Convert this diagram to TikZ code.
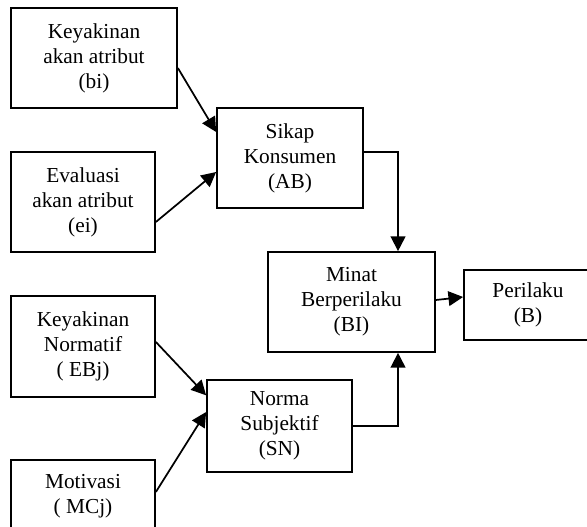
\documentclass[tikz,border=0pt]{standalone}
\usepackage{fontspec}
\setmainfont{Liberation Serif}
\usetikzlibrary{arrows.meta,positioning}

\begin{document}
\begin{tikzpicture}[
  x=0.75pt,
  y=-0.75pt,
  factor/.style={draw, line width=1.3pt, align=center, inner sep=2pt, minimum height=75pt,
    font=\fontsize{16}{18.75}\selectfont},
  arr/.style={-{Triangle[length=11pt,width=11pt]}, line width=1.3pt}
]
\useasboundingbox (0,0) rectangle (587,527);

\node[factor, minimum width=124.5pt] (belief) at (94,58) {Keyakinan\\akan atribut\\(bi)};
\node[factor, minimum width=108pt] (evaluation) at (83,202) {Evaluasi\\akan atribut\\(ei)};
\node[factor, minimum width=109.5pt] (attitude) at (290,158) {Sikap\\Konsumen\\(AB)};
\node[factor, minimum width=125.25pt] (intention) at (351.5,302) {Minat\\Berperilaku\\(BI)};
\node[factor, minimum width=96pt, minimum height=52.5pt] (behavior) at (528,305) {Perilaku\\(B)};

\node[factor, minimum width=108pt, minimum height=75.75pt] (normbelief) at (83,346.5) {Keyakinan\\Normatif\\( EBj)};
\node[factor, minimum width=108.75pt, minimum height=69pt] (subjnorm) at (279.5,426) {Norma\\Subjektif\\(SN)};
\node[factor, minimum width=108pt, minimum height=54pt] (motivation) at (83,496) {Motivasi\\( MCj)};

\draw[arr] ([yshift=-7.5pt]belief.east) -- ([yshift=19.5pt]attitude.west);
\draw[arr] ([yshift=-15pt]evaluation.east) -- ([yshift=-10.5pt]attitude.west);
\draw[arr] ([yshift=4.5pt]attitude.east) -| ([xshift=34.9pt]intention.north);
\draw[arr] ([yshift=1.5pt]intention.east) -- ([yshift=6pt]behavior.west);

\draw[arr] ([yshift=3.4pt]normbelief.east) -- ([yshift=23pt]subjnorm.west);
\draw[arr] ([yshift=3pt]motivation.east) -- ([yshift=10.5pt]subjnorm.west);
\draw[arr] (subjnorm.east) -| ([xshift=34.9pt]intention.south);

\end{tikzpicture}
\end{document}
